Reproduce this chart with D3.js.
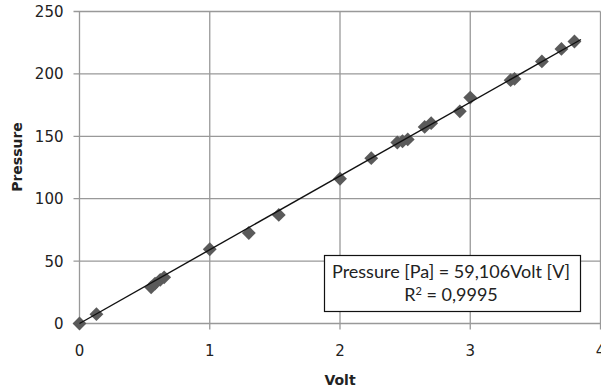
<!DOCTYPE html>
<html lang="en">
<head>
  <meta charset="UTF-8">
  <title>Pressure vs Volt</title>
  <style>
  body { margin: 0; background: #fff; }
  svg { display: block; }
  </style>
</head>
<body>
  <svg id="chart" width="601" height="390"></svg>
  <script src="https://cdn.jsdelivr.net/npm/d3@7"></script>
  <script>

// measured points (Volt, Pressure)
const volts     = [0, 0.13, 0.55, 0.58, 0.62, 0.65, 1.00, 1.30, 1.53, 2.00, 2.24, 2.44, 2.48, 2.52, 2.65, 2.70, 2.92, 3.00, 3.31, 3.34, 3.55, 3.70, 3.80]
const pressures = [0, 7.5, 29, 32, 35, 37, 59.5, 72.5, 87, 116, 132.5, 145, 146, 147.5, 157.5, 160.5, 170, 181, 195, 196, 210, 220, 226]

const xTicks = [0, 1, 2, 3, 4]
const yTicks = [0, 50, 100, 150, 200, 250]

// linear fit through origin
const slope = 59.106
const fitLabel = 'Pressure [Pa] = 59,106Volt [V]'
const r2Label = '0,9995'

const svg = d3.select('#chart')

const x = d3.scaleLinear().domain([0, 4]).range([79.5, 600.5])
const y = d3.scaleLinear().domain([0, 250]).range([323.5, 11.5])

const grid = svg.append('g')
  .attr('stroke', '#999')
  .attr('stroke-width', 1.3)

grid.selectAll('line.h')
  .data(yTicks)
  .join('line')
  .attr('class', 'h')
  .attr('x1', x(0) - 6).attr('x2', x(4))
  .attr('y1', d => y(d)).attr('y2', d => y(d))

grid.selectAll('line.v')
  .data(xTicks)
  .join('line')
  .attr('class', 'v')
  .attr('x1', d => x(d)).attr('x2', d => x(d))
  .attr('y1', y(250)).attr('y2', y(0) + 6)

// tick labels
svg.append('g')
  .attr('font-family', 'DejaVu Sans')
  .attr('font-size', 15)
  .attr('fill', '#222')
  .attr('text-anchor', 'end')
  .selectAll('text')
  .data(yTicks)
  .join('text')
  .attr('x', x(0) - 16)
  .attr('y', d => y(d) + 5.5)
  .text(d => d)

svg.append('g')
  .attr('font-family', 'DejaVu Sans')
  .attr('font-size', 15)
  .attr('fill', '#222')
  .attr('text-anchor', 'middle')
  .selectAll('text')
  .data(xTicks)
  .join('text')
  .attr('x', d => x(d))
  .attr('y', 356)
  .text(d => d)

// axis titles
svg.append('text')
  .attr('x', x(2))
  .attr('y', 385)
  .attr('text-anchor', 'middle')
  .attr('font-family', 'DejaVu Sans')
  .attr('font-weight', 'bold')
  .attr('font-size', 14)
  .attr('fill', '#222')
  .text('Volt')

svg.append('text')
  .attr('transform', 'translate(22,157) rotate(-90)')
  .attr('text-anchor', 'middle')
  .attr('font-family', 'DejaVu Sans')
  .attr('font-weight', 'bold')
  .attr('font-size', 14)
  .attr('fill', '#222')
  .text('Pressure')

// points
const points = volts.map((v, i) => ({ v, p: pressures[i] }))
const diamond = d3.symbol(d3.symbolSquare, 96)

svg.append('g')
  .selectAll('path')
  .data(points)
  .join('path')
  .attr('d', diamond)
  .attr('transform', d => `translate(${x(d.v)},${y(d.p)}) rotate(45)`)
  .attr('fill', '#5a5a5a')

// trend line
const vMax = d3.max(volts)
svg.append('line')
  .attr('x1', x(0)).attr('y1', y(0))
  .attr('x2', x(vMax + 0.05)).attr('y2', y(slope * (vMax + 0.05)))
  .attr('stroke', '#111')
  .attr('stroke-width', 1.4)

// fit label box
const box = svg.append('g')
box.append('rect')
  .attr('x', 324.5).attr('y', 255.5)
  .attr('width', 256).attr('height', 56)
  .attr('fill', '#fff')
  .attr('stroke', '#111')
  .attr('stroke-width', 1.2)

box.append('text')
  .attr('x', 451)
  .attr('y', 278)
  .attr('text-anchor', 'middle')
  .attr('font-family', 'Lato')
  .attr('font-size', 18)
  .attr('fill', '#222')
  .text(fitLabel)

const r2 = box.append('text')
  .attr('x', 451)
  .attr('y', 301)
  .attr('text-anchor', 'middle')
  .attr('font-family', 'Lato')
  .attr('font-size', 18)
  .attr('fill', '#222')
r2.append('tspan').text('R')
r2.append('tspan').attr('dy', -6).attr('font-size', 11).text('2')
r2.append('tspan').attr('dy', 6).text(' = ' + r2Label)

  </script>
</body>
</html>
